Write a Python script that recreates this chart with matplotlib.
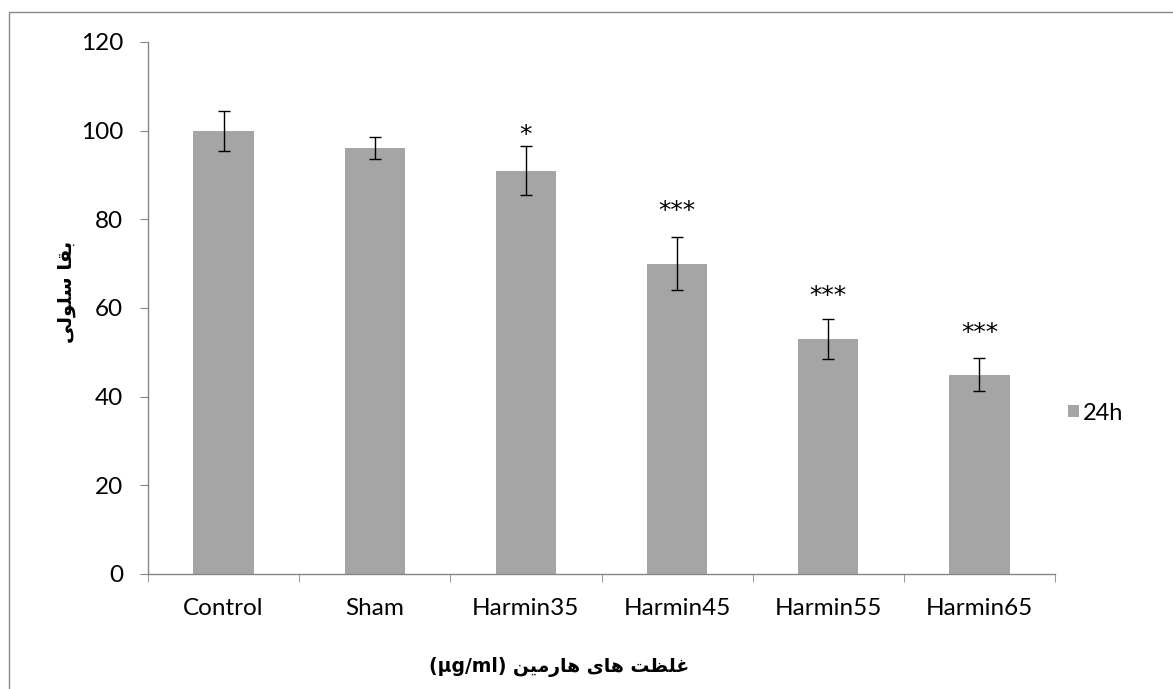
import numpy as np
import matplotlib
matplotlib.use("Agg")
import matplotlib.pyplot as plt
from matplotlib.patches import Rectangle

# data
groups = ["Control", "Sham", "Harmin35", "Harmin45", "Harmin55", "Harmin65"]
viability = [100, 96, 91, 70, 53, 45]
errors = [4.5, 2.5, 5.5, 6.0, 4.6, 3.8]
stars = ["", "", "*", "***", "***", "***"]
series_name = "24h"
y_ticks = [0, 20, 40, 60, 80, 100, 120]

y_title = "بقا سلولی"
x_title = "غلظت های هارمین"
x_unit = "(µg/ml)"

# matplotlib has no arabic shaping, so pick presentation forms by hand
# (isolated, final, initial, medial); two forms = joins only to the right
forms = {
    "ب": "\ufe8f\ufe90\ufe91\ufe92", "ق": "\ufed5\ufed6\ufed7\ufed8",
    "ا": "\ufe8d\ufe8e", "س": "\ufeb1\ufeb2\ufeb3\ufeb4",
    "ل": "\ufedd\ufede\ufedf\ufee0", "و": "\ufeed\ufeee",
    "ی": "\ufbfc\ufbfd\ufbfe\ufbff", "غ": "\ufecd\ufece\ufecf\ufed0",
    "ظ": "\ufec5\ufec6\ufec7\ufec8", "ت": "\ufe95\ufe96\ufe97\ufe98",
    "ه": "\ufee9\ufeea\ufeeb\ufeec", "ر": "\ufead\ufeae",
    "م": "\ufee1\ufee2\ufee3\ufee4", "ن": "\ufee5\ufee6\ufee7\ufee8",
}


def shape(text):
    out = []
    for i, ch in enumerate(text):
        if ch not in forms:
            out.append(ch)
            continue
        prev = text[i - 1] if i > 0 else ""
        nxt = text[i + 1] if i + 1 < len(text) else ""
        join_prev = prev in forms and len(forms[prev]) == 4
        join_next = len(forms[ch]) == 4 and nxt in forms
        f = forms[ch]
        if join_prev and join_next:
            out.append(f[3])
        elif join_prev:
            out.append(f[1])
        elif join_next:
            out.append(f[2])
        else:
            out.append(f[0])
    return "".join(out)[::-1]


plt.rcParams["font.family"] = ["Lato", "DejaVu Sans"]

fig = plt.figure(figsize=(11.73, 6.89), dpi=100)
ax = fig.add_axes([148 / 1173, 115 / 689, 907 / 1173, 532 / 689])

x = np.arange(len(groups))
ax.bar(x, viability, width=0.4, color="#a5a5a5", label=series_name, zorder=2)
ax.errorbar(x, viability, yerr=errors, fmt="none", ecolor="black",
            elinewidth=1, capsize=4.5, capthick=1, zorder=3)

# star baseline offset from the top of the error bar, in points
offsets = [0, 0, 3, 14, 11.5, 13]
for i in range(len(groups)):
    if stars[i]:
        ax.annotate(stars[i], (x[i], viability[i] + errors[i]),
                    xytext=(0, offsets[i]), textcoords="offset points",
                    ha="center", va="baseline", fontsize=18,
                    family=["DejaVu Sans"])

ax.set_xlim(-0.5, len(groups) - 0.5)
ax.set_ylim(0, 120)
ax.set_yticks(y_ticks)
ax.set_xticks(x)
ax.set_xticklabels(groups)
ax.set_xticks(np.arange(len(groups) + 1) - 0.5, minor=True)

for side in ["top", "right"]:
    ax.spines[side].set_visible(False)
for side in ["left", "bottom"]:
    ax.spines[side].set_color("#868686")
    ax.spines[side].set_linewidth(1)

ax.tick_params(axis="y", direction="out", length=6, color="#868686",
               labelsize=17.5, pad=12)
ax.tick_params(axis="x", which="major", length=0, labelsize=17.5, pad=17)
ax.tick_params(axis="x", which="minor", direction="out", length=6,
               color="#868686")

fig.text(66 / 1173, 1 - 292 / 689, shape(y_title), rotation=90,
         ha="center", va="center", fontsize=14, fontweight="bold",
         family=["DejaVu Sans"])
fig.text(559 / 1173, 1 - 667 / 689, x_unit + " " + shape(x_title),
         ha="center", va="center", fontsize=13.5, fontweight="bold",
         family=["DejaVu Sans"])

ax.legend(loc="center left", bbox_to_anchor=(1068 / 1173, 1 - 413 / 689),
          bbox_transform=fig.transFigure, frameon=False, fontsize=17,
          handlelength=0.45, handleheight=0.45, handletextpad=0.2,
          borderpad=0, borderaxespad=0)

# grey frame round the chart area (clipped at right and bottom)
fig.patches.append(Rectangle((8.5 / 1173, -0.1), 1.2, 1.1 - 12.5 / 689,
                             fill=False, edgecolor="#888888", lw=1,
                             transform=fig.transFigure))

fig.savefig("out.png", dpi=100)
